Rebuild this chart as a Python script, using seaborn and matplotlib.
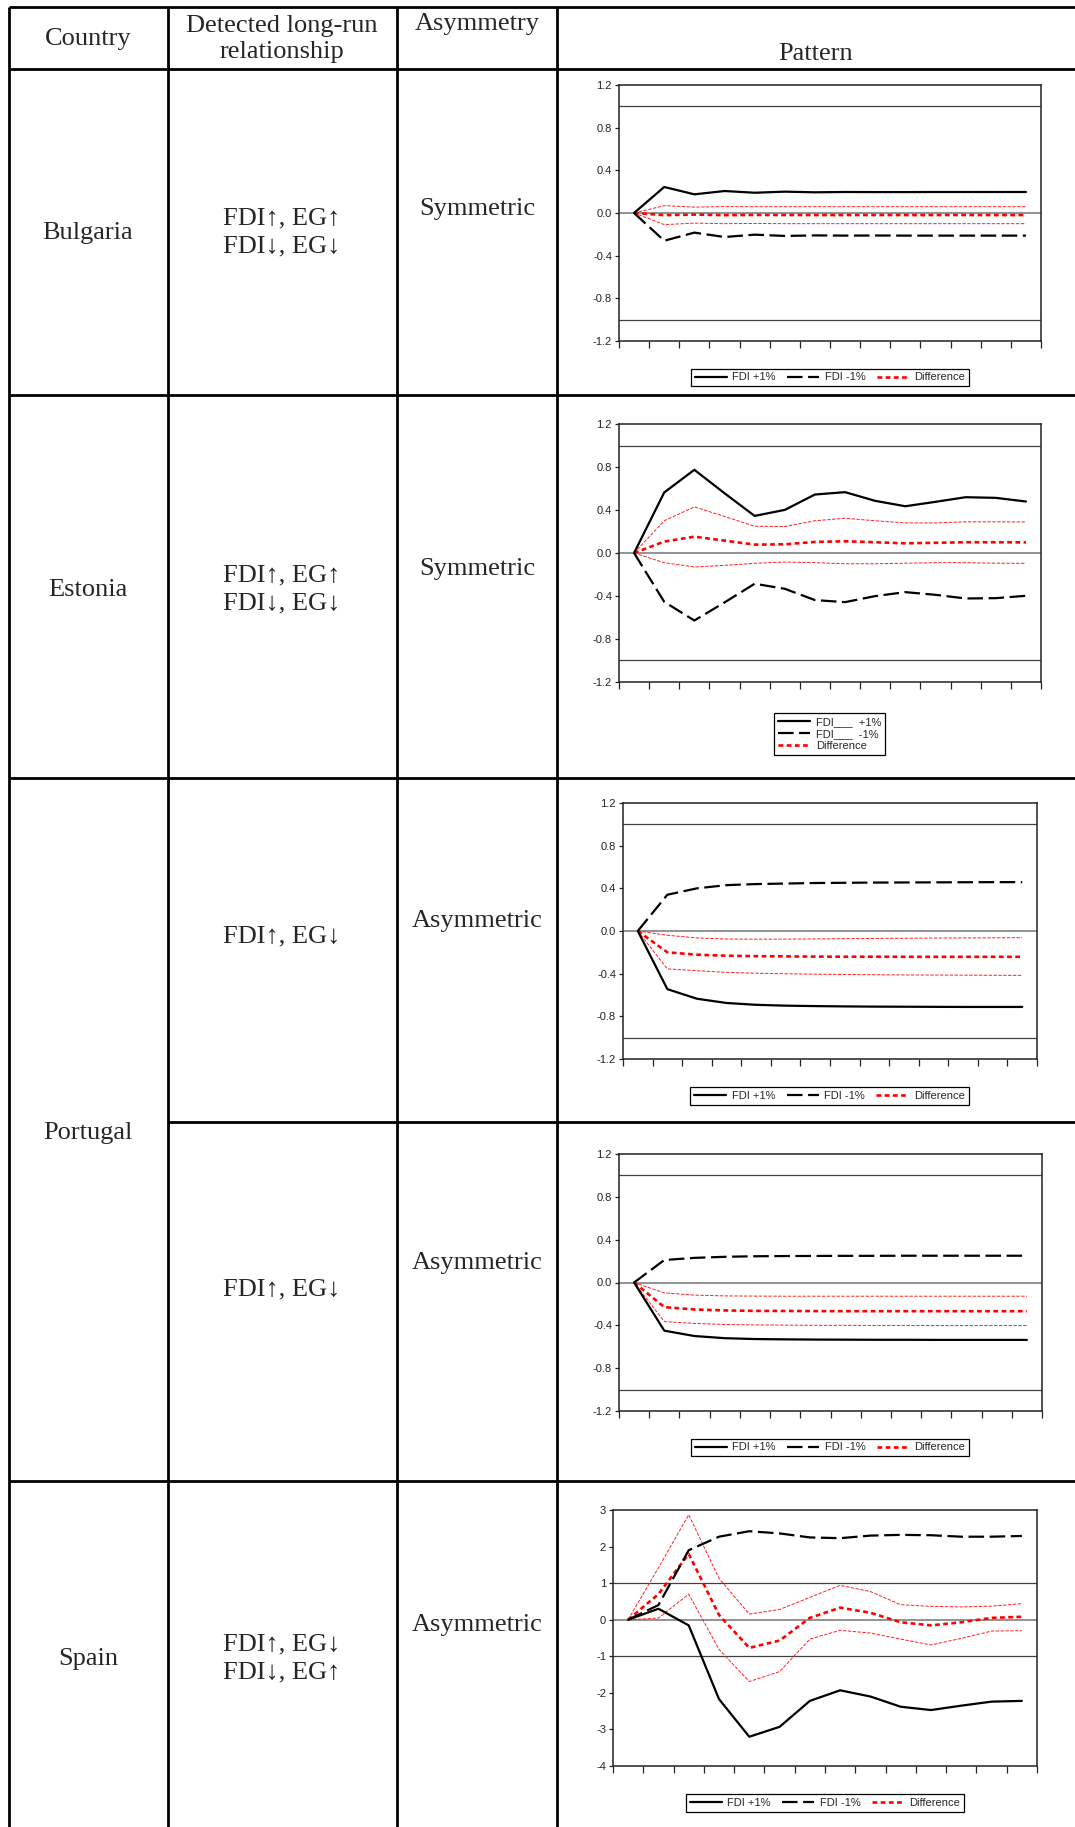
import numpy as np
import pandas as pd
import seaborn as sns
import matplotlib.pyplot as plt
from matplotlib.lines import Line2D

sns.set_style("white")
plt.rcParams['font.family'] = ['Liberation Sans', 'DejaVu Sans']

# horizon (14 periods)
periods = list(range(14))

# Bulgaria
bul_pos = [0, 0.244, 0.175, 0.206, 0.19, 0.2, 0.194, 0.197, 0.196, 0.196, 0.197, 0.197, 0.197, 0.197]
bul_neg = [0, -0.26, -0.184, -0.225, -0.203, -0.215, -0.21, -0.212, -0.211, -0.212, -0.212, -0.212, -0.212, -0.212]
bul_diff = [0, -0.02, -0.015, -0.02, -0.018, -0.019, -0.019, -0.019, -0.019, -0.019, -0.019, -0.019, -0.019, -0.019]
bul_hi = [0, 0.069, 0.055, 0.06, 0.059, 0.059, 0.059, 0.059, 0.059, 0.059, 0.059, 0.059, 0.059, 0.059]
bul_lo = [0, -0.109, -0.095, -0.1, -0.098, -0.1, -0.1, -0.1, -0.1, -0.1, -0.1, -0.1, -0.1, -0.1]

# Estonia
est_pos = [0, 0.563, 0.774, 0.556, 0.345, 0.401, 0.544, 0.566, 0.485, 0.435, 0.476, 0.519, 0.513, 0.479]
est_neg = [0, -0.454, -0.628, -0.46, -0.286, -0.333, -0.438, -0.457, -0.401, -0.364, -0.389, -0.423, -0.42, -0.398]
est_diff = [0, 0.106, 0.152, 0.115, 0.078, 0.081, 0.103, 0.109, 0.1, 0.09, 0.095, 0.1, 0.1, 0.099]
est_hi = [0, 0.30, 0.429, 0.34, 0.249, 0.246, 0.30, 0.323, 0.30, 0.28, 0.28, 0.29, 0.29, 0.289]
est_lo = [0, -0.09, -0.13, -0.115, -0.096, -0.084, -0.09, -0.1, -0.1, -0.095, -0.09, -0.09, -0.095, -0.096]

# Portugal (first relationship)
pt1_pos = [0, -0.545, -0.635, -0.675, -0.692, -0.70, -0.704, -0.707, -0.709, -0.71, -0.711, -0.712, -0.712, -0.712]
pt1_neg = [0, 0.34, 0.40, 0.43, 0.44, 0.445, 0.45, 0.452, 0.454, 0.455, 0.456, 0.457, 0.458, 0.458]
pt1_diff = [0, -0.2, -0.222, -0.232, -0.236, -0.238, -0.24, -0.241, -0.241, -0.242, -0.242, -0.242, -0.242, -0.242]
pt1_hi = [0, -0.04, -0.065, -0.075, -0.077, -0.076, -0.074, -0.072, -0.07, -0.068, -0.066, -0.065, -0.064, -0.063]
pt1_lo = [0, -0.355, -0.372, -0.388, -0.396, -0.401, -0.405, -0.408, -0.41, -0.412, -0.413, -0.414, -0.415, -0.416]

# Portugal (second relationship)
pt2_pos = [0, -0.45, -0.50, -0.52, -0.528, -0.531, -0.533, -0.534, -0.535, -0.535, -0.536, -0.536, -0.536, -0.536]
pt2_neg = [0, 0.21, 0.23, 0.24, 0.245, 0.247, 0.248, 0.249, 0.249, 0.25, 0.25, 0.25, 0.25, 0.25]
pt2_diff = [0, -0.23, -0.252, -0.261, -0.265, -0.266, -0.267, -0.268, -0.268, -0.268, -0.268, -0.268, -0.268, -0.268]
pt2_hi = [0, -0.097, -0.118, -0.125, -0.127, -0.128, -0.128, -0.128, -0.128, -0.128, -0.128, -0.128, -0.128, -0.128]
pt2_lo = [0, -0.365, -0.382, -0.392, -0.396, -0.398, -0.4, -0.4, -0.401, -0.401, -0.402, -0.402, -0.402, -0.402]

# Spain
esp_pos = [0, 0.30, -0.155, -2.17, -3.2, -2.93, -2.22, -1.93, -2.1, -2.38, -2.47, -2.35, -2.24, -2.22]
esp_neg = [0, 0.40, 1.90, 2.27, 2.42, 2.36, 2.25, 2.23, 2.30, 2.32, 2.31, 2.27, 2.27, 2.29]
esp_diff = [0, 0.70, 1.80, 0.13, -0.77, -0.57, 0.05, 0.33, 0.19, -0.07, -0.155, -0.07, 0.05, 0.08]
esp_hi = [0, 1.42, 2.87, 1.13, 0.155, 0.28, 0.61, 0.94, 0.77, 0.41, 0.365, 0.35, 0.37, 0.44]
esp_lo = [0, 0.045, 0.70, -0.81, -1.69, -1.42, -0.53, -0.29, -0.365, -0.53, -0.69, -0.51, -0.31, -0.30]

legend_labels = ["FDI +1%", "FDI -1%", "Difference"]
legend_labels_est = ["FDI___  +1%", "FDI___  -1%", "Difference"]

W, H = 1075, 1827
fig = plt.figure(figsize=(W / 100, H / 100), dpi=100)

# table background
bg = fig.add_axes([0, 0, 1, 1])
bg.set_xlim(0, W)
bg.set_ylim(H, 0)
bg.axis('off')
tl = dict(color='black', lw=2.0, solid_capstyle='butt')
bg.plot([9, W], [7, 7], **tl)
bg.plot([9, W], [69, 69], **tl)
bg.plot([9, W], [395, 395], **tl)
bg.plot([9, W], [778, 778], **tl)
bg.plot([168, W], [1122, 1122], **tl)
bg.plot([9, W], [1481, 1481], **tl)
for xv in [9, 168, 397, 557]:
    bg.plot([xv, xv], [7, H], **tl)

serif = ['Liberation Serif', 'DejaVu Serif']
fs = 19
bg.text(88, 39, "Country", family=serif, fontsize=fs, ha='center', va='center')
bg.text(282, 26, "Detected long-run", family=serif, fontsize=fs, ha='center', va='center')
bg.text(282, 52, "relationship", family=serif, fontsize=fs, ha='center', va='center')
bg.text(477, 24, "Asymmetry", family=serif, fontsize=fs, ha='center', va='center')
bg.text(816, 54, "Pattern", family=serif, fontsize=fs, ha='center', va='center')

rows = [
    ("Bulgaria", 239, ["FDI↑, EG↑", "FDI↓, EG↓"], [224, 252], "Symmetric", 215),
    ("Estonia", 596, ["FDI↑, EG↑", "FDI↓, EG↓"], [581, 609], "Symmetric", 575),
    ("Spain", 1665, ["FDI↑, EG↓", "FDI↓, EG↑"], [1650, 1678], "Asymmetric", 1631),
]
for country, cy, rels, rys, sym, sy in rows:
    bg.text(88, cy, country, family=serif, fontsize=fs, ha='center', va='baseline')
    for r, ry in zip(rels, rys):
        bg.text(282, ry, r, family=serif, fontsize=fs, ha='center', va='baseline')
    bg.text(477, sy, sym, family=serif, fontsize=fs, ha='center', va='baseline')

bg.text(88, 1139, "Portugal", family=serif, fontsize=fs, ha='center', va='baseline')
bg.text(282, 942, "FDI↑, EG↓", family=serif, fontsize=fs, ha='center', va='baseline')
bg.text(477, 927, "Asymmetric", family=serif, fontsize=fs, ha='center', va='baseline')
bg.text(282, 1295, "FDI↑, EG↓", family=serif, fontsize=fs, ha='center', va='baseline')
bg.text(477, 1269, "Asymmetric", family=serif, fontsize=fs, ha='center', va='baseline')

style_pos = dict(color='black', lw=1.6, linestyle='-')
style_neg = dict(color='black', lw=1.6, linestyle=(0, (7, 2.5)))
style_diff = dict(color='#ff0000', lw=1.9, linestyle=(0, (1.8, 1.3)))
style_band = dict(color='#ff2020', lw=0.7, linestyle=(0, (3.5, 1.5)))


def draw_chart(box, pos, neg, diff, hi, lo, ylim, yticks, ylabels, leg_xy, labels, ncol):
    L, R, T, B = box
    ax = fig.add_axes([L / W, 1 - B / H, (R - L) / W, (B - T) / H])
    df = pd.DataFrame({"t": periods, "pos": pos, "neg": neg, "diff": diff, "hi": hi, "lo": lo})
    ax.axhline(0, color='#808080', lw=1.2, zorder=1)
    ax.axhline(1, color='#404040', lw=0.9, zorder=1)
    ax.axhline(-1, color='#404040', lw=0.9, zorder=1)
    sns.lineplot(data=df, x="t", y="hi", ax=ax, **style_band)
    sns.lineplot(data=df, x="t", y="lo", ax=ax, **style_band)
    sns.lineplot(data=df, x="t", y="diff", ax=ax, **style_diff)
    sns.lineplot(data=df, x="t", y="neg", ax=ax, **style_neg)
    sns.lineplot(data=df, x="t", y="pos", ax=ax, **style_pos)
    ax.set_xlim(-0.5, 13.5)
    ax.set_ylim(*ylim)
    ax.set_xticks(np.arange(-0.5, 14, 1))
    ax.set_xticklabels([])
    ax.set_yticks(yticks)
    ax.set_yticklabels(ylabels)
    ax.set_xlabel("")
    ax.set_ylabel("")
    ax.tick_params(axis='x', direction='out', length=5, width=0.9, color='#222222', bottom=True)
    ax.tick_params(axis='y', direction='out', length=3, width=0.9, color='#222222',
                   labelsize=8, pad=2, labelcolor='#222222', left=True)
    for sp in ax.spines.values():
        sp.set_color('#222222')
        sp.set_linewidth(1.1)
    handles = [Line2D([], [], **style_pos), Line2D([], [], **style_neg), Line2D([], [], **style_diff)]
    leg = fig.legend(handles, labels, loc='center', bbox_to_anchor=(leg_xy[0] / W, 1 - leg_xy[1] / H),
                     ncol=ncol, frameon=True, fancybox=False, edgecolor='black', framealpha=1,
                     fontsize=8, handlelength=2.9, handletextpad=0.5, columnspacing=1.0,
                     borderpad=0.35, labelspacing=0.15, borderaxespad=0)
    leg.get_frame().set_linewidth(0.9)
    return ax


t12 = [1.2, 0.8, 0.4, 0.0, -0.4, -0.8, -1.2]
l12 = ["1.2", "0.8", "0.4", "0.0", "-0.4", "-0.8", "-1.2"]

draw_chart((619, 1041, 85, 341), bul_pos, bul_neg, bul_diff, bul_hi, bul_lo,
           (-1.2, 1.2), t12, l12, (830, 377.5), legend_labels, 3)
draw_chart((619, 1041, 424, 682), est_pos, est_neg, est_diff, est_hi, est_lo,
           (-1.2, 1.2), t12, l12, (829.5, 734), legend_labels_est, 1)
draw_chart((623, 1037, 803, 1059), pt1_pos, pt1_neg, pt1_diff, pt1_hi, pt1_lo,
           (-1.2, 1.2), t12, l12, (829.5, 1096), legend_labels, 3)
draw_chart((619, 1042, 1154, 1411), pt2_pos, pt2_neg, pt2_diff, pt2_hi, pt2_lo,
           (-1.2, 1.2), t12, l12, (830, 1447.5), legend_labels, 3)
draw_chart((613, 1037, 1510, 1766), esp_pos, esp_neg, esp_diff, esp_hi, esp_lo,
           (-4, 3), [3, 2, 1, 0, -1, -2, -3, -4], ["3", "2", "1", "0", "-1", "-2", "-3", "-4"],
           (825, 1803), legend_labels, 3)

fig.savefig("out.png", dpi=100)
